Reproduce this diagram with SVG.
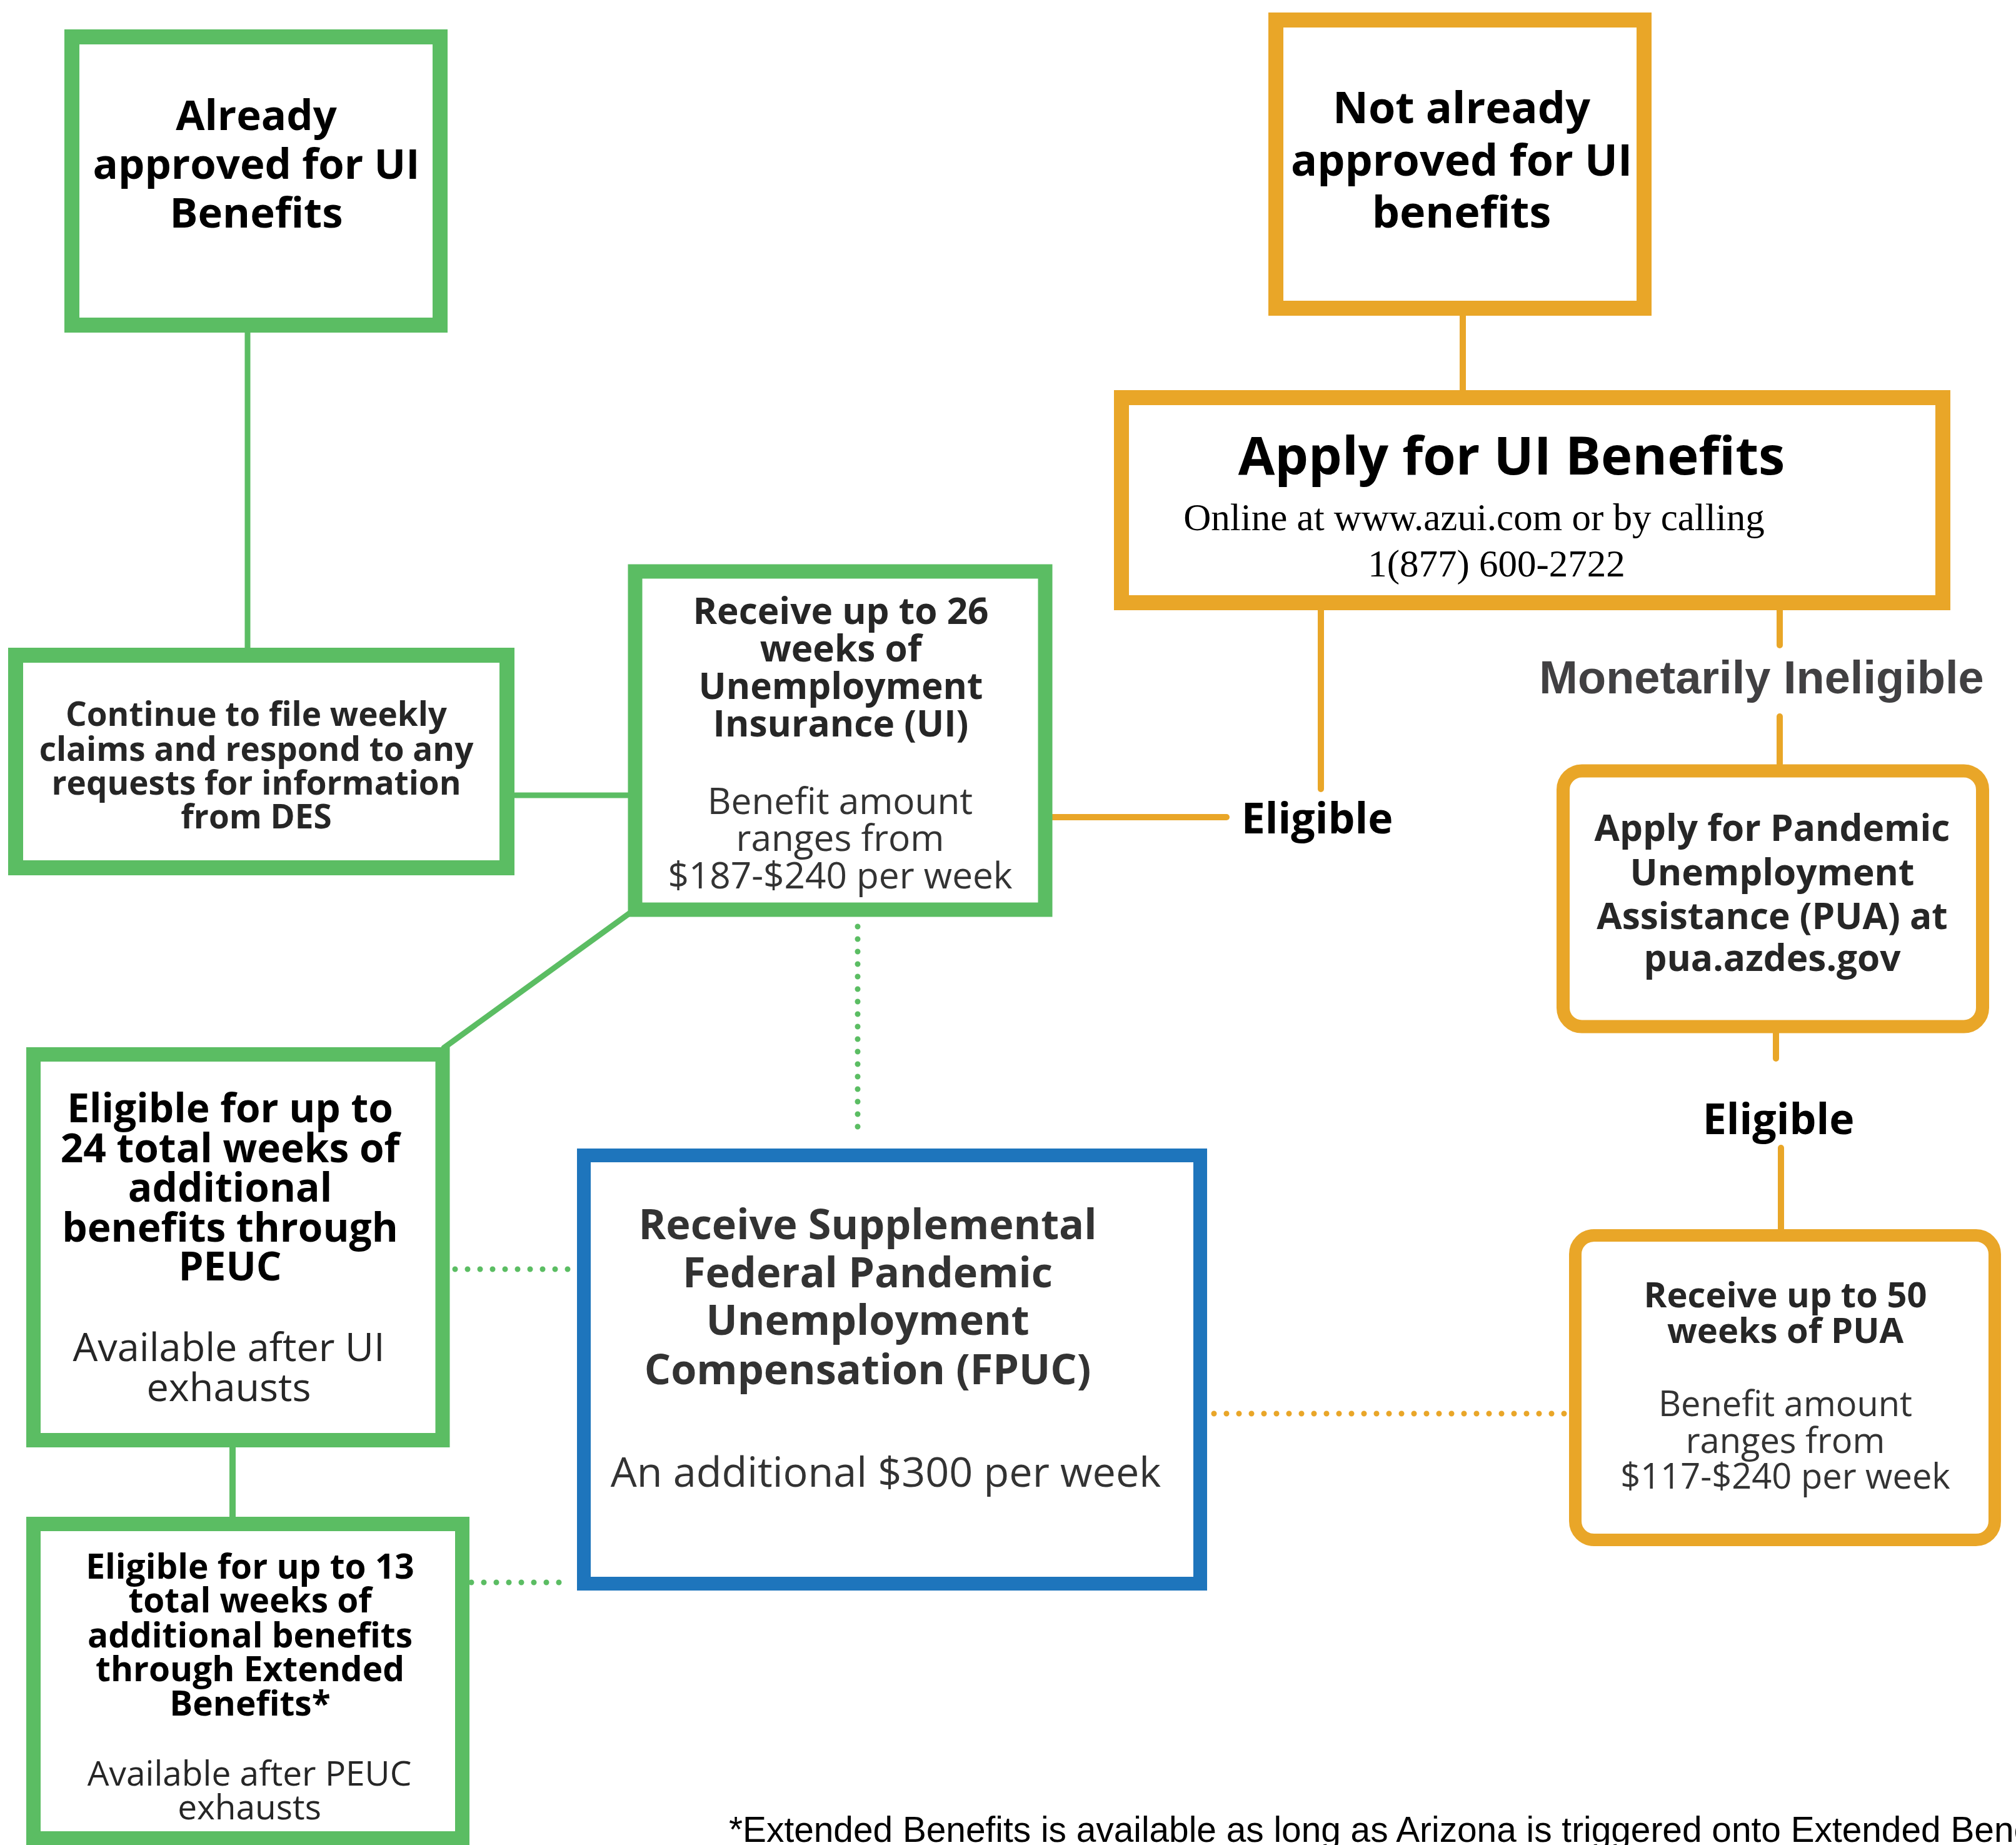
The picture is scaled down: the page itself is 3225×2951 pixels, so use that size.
<svg xmlns="http://www.w3.org/2000/svg" width="3225" height="2951" viewBox="0 0 3225 2951">
<defs>
<style>
.bg{fill:#ffffff}
.gb{fill:#ffffff;stroke:#5bbd63}
.ob{fill:#ffffff;stroke:#e9a628}
.bb{fill:#ffffff;stroke:#1e75bc}
.t{font-family:'Open Sans','Noto Sans','DejaVu Sans',sans-serif;text-anchor:middle}
.h{font-weight:700}
.r{font-weight:400}
.k{fill:#000000}
.d{fill:#262626}
.m{fill:#333333}
.gl{fill:none;stroke:#5bbd63;stroke-width:9;stroke-linecap:round}
.ol{fill:none;stroke:#e9a628;stroke-width:10;stroke-linecap:round}
.gd{fill:none;stroke:#5bbd63;stroke-width:9;stroke-linecap:round;stroke-dasharray:0 20}
.od{fill:none;stroke:#e9a628;stroke-width:9;stroke-linecap:round;stroke-dasharray:0 20}
</style>
</defs>
<rect class="bg" x="0" y="0" width="3225" height="2951"/>

<g id="connectors">
<line class="gl" x1="396" y1="531" x2="396" y2="1036" stroke-linecap="butt"/>
<line class="gl" x1="824" y1="1272" x2="1004" y2="1272"/>
<line class="gl" x1="1008" y1="1460" x2="710" y2="1676" stroke-linecap="butt"/>
<line class="gd" x1="1372" y1="1482" x2="1372" y2="1822"/>
<line class="gl" x1="372" y1="2315" x2="372" y2="2426" stroke-linecap="butt" style="stroke-width:10"/>
<line class="gd" x1="728" y1="2030" x2="918" y2="2030"/>
<line class="gd" x1="734" y1="2531" x2="914" y2="2531"/>
<line class="ol" x1="2340" y1="504" x2="2340" y2="624" stroke-linecap="butt"/>
<line class="ol" x1="2113" y1="976" x2="2113" y2="1262"/>
<line class="ol" x1="1684" y1="1307" x2="1962" y2="1307"/>
<line class="ol" x1="2847" y1="976" x2="2847" y2="1032"/>
<line class="ol" x1="2847" y1="1146" x2="2847" y2="1222"/>
<line class="ol" x1="2841" y1="1652" x2="2841" y2="1693" stroke-linecap="butt"/>
<line class="ol" x1="2849" y1="1836" x2="2849" y2="1966"/>
<line class="od" x1="1942" y1="2261" x2="2506" y2="2261"/>
</g>

<g id="already">
<rect class="gb" x="115" y="59" width="589" height="461" stroke-width="24"/>
<text class="t h k" font-size="67"><tspan x="410" y="208">Already</tspan><tspan x="410" y="286">approved for UI</tspan><tspan x="410" y="364">Benefits</tspan></text>
</g>

<g id="not-already">
<rect class="ob" x="2041" y="32" width="589" height="461" stroke-width="24"/>
<text class="t h k" font-size="70"><tspan x="2338" y="197">Not already</tspan><tspan x="2338" y="281">approved for UI</tspan><tspan x="2338" y="364">benefits</tspan></text>
</g>

<g id="apply-ui">
<rect class="ob" x="1794" y="636" width="1314" height="328" stroke-width="24"/>
<text class="t h k" font-size="85" x="2418" y="759">Apply for UI Benefits</text>
<text font-family="'Liberation Serif','Times New Roman',serif" font-size="61" text-anchor="middle" fill="#000"><tspan x="2358" y="848">Online at www.azui.com or by calling</tspan><tspan x="2394" y="922">1(877) 600-2722</tspan></text>
</g>

<g id="continue">
<rect class="gb" x="25" y="1048" width="786" height="340" stroke-width="24"/>
<text class="t h d" font-size="53"><tspan x="410" y="1161">Continue to file weekly</tspan><tspan x="410" y="1217">claims and respond to any</tspan><tspan x="410" y="1271">requests for information</tspan><tspan x="410" y="1325">from DES</tspan></text>
</g>

<g id="receive-ui">
<rect class="gb" x="1016" y="914" width="656" height="541" stroke-width="23"/>
<text class="t h d" font-size="58.5"><tspan x="1345" y="998">Receive up to 26</tspan><tspan x="1345" y="1058">weeks of</tspan><tspan x="1345" y="1118">Unemployment</tspan><tspan x="1345" y="1178">Insurance (UI)</tspan></text>
<text class="t r m" font-size="58.5"><tspan x="1344" y="1302">Benefit amount</tspan><tspan x="1344" y="1361">ranges from</tspan><tspan x="1344" y="1421">$187-$240 per week</tspan></text>
</g>

<g id="eligible-ui">
<text class="t h k" font-size="68" x="2107" y="1333">Eligible</text>
</g>

<g id="monetarily-ineligible">
<text font-family="'Liberation Sans',Arial,sans-serif" font-weight="700" text-anchor="middle" font-size="74" fill="#414042" x="2818" y="1109">Monetarily Ineligible</text>
</g>

<g id="apply-pua">
<rect class="ob" x="2500.5" y="1233" width="671" height="409" rx="30" stroke-width="21"/>
<text class="t h d" font-size="58.5"><tspan x="2835" y="1345">Apply for Pandemic</tspan><tspan x="2835" y="1416">Unemployment</tspan><tspan x="2835" y="1486">Assistance (PUA) at</tspan><tspan x="2835" y="1553">pua.azdes.gov</tspan></text>
</g>

<g id="eligible-pua">
<text class="t h k" font-size="68" x="2845" y="1814">Eligible</text>
</g>

<g id="receive-pua">
<rect class="ob" x="2520" y="1976" width="671" height="487" rx="30" stroke-width="20"/>
<text class="t h d" font-size="56"><tspan x="2856" y="2091">Receive up to 50</tspan><tspan x="2856" y="2148">weeks of PUA</tspan></text>
<text class="t r m" font-size="56"><tspan x="2856" y="2265">Benefit amount</tspan><tspan x="2856" y="2324">ranges from</tspan><tspan x="2856" y="2381">$117-$240 per week</tspan></text>
</g>

<g id="peuc">
<rect class="gb" x="53.5" y="1686.5" width="654.5" height="617" stroke-width="23"/>
<text class="t h k" font-size="64"><tspan x="368" y="1795">Eligible for up to</tspan><tspan x="368" y="1859">24 total weeks of</tspan><tspan x="368" y="1922">additional</tspan><tspan x="368" y="1986">benefits through</tspan><tspan x="368" y="2048">PEUC</tspan></text>
<text class="t r d" font-size="63"><tspan x="366" y="2177">Available after UI</tspan><tspan x="366" y="2241">exhausts</tspan></text>
</g>

<g id="fpuc">
<rect class="bb" x="934" y="1848" width="986" height="685" stroke-width="22"/>
<text class="t h m" font-size="66.5"><tspan x="1388" y="1982">Receive Supplemental</tspan><tspan x="1388" y="2059">Federal Pandemic</tspan><tspan x="1388" y="2135">Unemployment</tspan><tspan x="1388" y="2214">Compensation (FPUC)</tspan></text>
<text class="t r m" font-size="66.5" x="1417" y="2378">An additional $300 per week</text>
</g>

<g id="extended-benefits">
<rect class="gb" x="53.5" y="2437.5" width="686" height="503" stroke-width="23"/>
<text class="t h k" font-size="55"><tspan x="400" y="2525">Eligible for up to 13</tspan><tspan x="400" y="2579">total weeks of</tspan><tspan x="400" y="2635">additional benefits</tspan><tspan x="400" y="2689">through Extended</tspan><tspan x="400" y="2744">Benefits*</tspan></text>
<text class="t r d" font-size="55"><tspan x="399" y="2856">Available after PEUC</tspan><tspan x="399" y="2910">exhausts</tspan></text>
</g>

<g id="footnote">
<text font-family="'Liberation Sans',Arial,sans-serif" font-size="56.8" fill="#000" x="1166" y="2946">*Extended Benefits is available as long as Arizona is triggered onto Extended Benefits.</text>
</g>
</svg>
